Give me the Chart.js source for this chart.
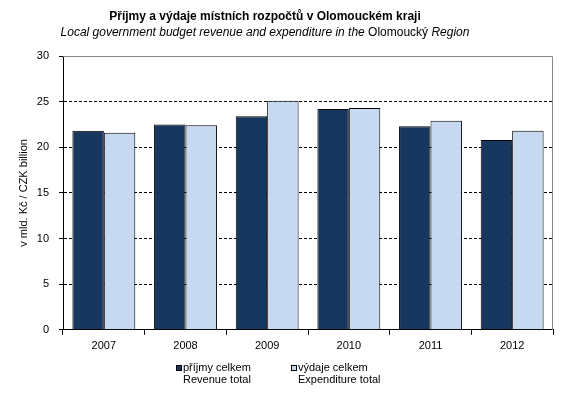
<!DOCTYPE html>
<html>
<head>
    <meta charset="utf-8">
    <title>Příjmy a výdaje místních rozpočtů v Olomouckém kraji</title>
    <script src="https://cdn.jsdelivr.net/npm/chart.js@4"></script>
    <style>
        html, body {
            margin: 0;
            padding: 0;
            background: #fff;
        }
        #wrap {
            width: 581px;
            height: 395px;
        }
    </style>
</head>
<body>
    <div id="wrap"><canvas id="plot"></canvas></div>

    <script>
        // data (bn CZK)
        const years = ['2007', '2008', '2009', '2010', '2011', '2012'];
        const revenue = [21.8, 22.5, 23.4, 24.2, 22.3, 20.8];
        const expenditure = [21.6, 22.4, 25.1, 24.3, 22.9, 21.8];

        const yTicks = [0, 5, 10, 15, 20, 25, 30];

        // legend labels: czech line + english line
        const revenueLabel = ['příjmy celkem', 'Revenue total'];
        const expenditureLabel = ['výdaje celkem', 'Expenditure total'];

        const titleText = 'Příjmy a výdaje místních rozpočtů v Olomouckém kraji';
        // subtitle has mixed styles: [text, font style]
        const subtitleParts = [
            ['Local government budget revenue and expenditure in the ', 'italic'],
            ['Olomoucký', 'normal'],
            [' Region', 'italic']
        ];
        const yTitle = 'v mld. Kč / CZK billion';

        const FONT = '"Liberation Sans", Arial, sans-serif';
        const DARK = '#17375E';
        const LIGHT = '#C6D9F1';

        // headings, two-line legend and the grey frame on top/right of the plot
        const headingPlugin = {
            id: 'heading',
            afterDraw(chart) {
                const ctx = chart.ctx;
                const cx = 265;
                ctx.save();
                ctx.fillStyle = '#000';
                ctx.textBaseline = 'middle';

                ctx.textAlign = 'center';
                ctx.font = 'bold 12px ' + FONT;
                ctx.fillText(titleText, cx, 17);

                ctx.textAlign = 'left';
                const widths = subtitleParts.map(p => {
                    ctx.font = p[1] + ' 12px ' + FONT;
                    return ctx.measureText(p[0]).width;
                });
                let x = cx - widths.reduce((a, b) => a + b, 0) / 2;
                subtitleParts.forEach((p, i) => {
                    ctx.font = p[1] + ' 12px ' + FONT;
                    ctx.fillText(p[0], x, 33);
                    x += widths[i];
                });

                // legend
                ctx.font = '11px ' + FONT;
                const items = chart.data.datasets.map(ds => {
                    const lines = ds.label.split('\n');
                    const w = Math.max(...lines.map(l => ctx.measureText(l).width));
                    return { lines, w: 7 + w, fill: ds.backgroundColor };
                });
                const gap = 40;
                const total = items.reduce((a, it) => a + it.w, 0) + gap * (items.length - 1);
                let lx = Math.round(278.5 - total / 2);
                items.forEach(it => {
                    ctx.fillStyle = it.fill;
                    ctx.fillRect(lx, 365, 5, 5);
                    ctx.strokeStyle = '#000';
                    ctx.lineWidth = 1;
                    ctx.strokeRect(lx + 0.5, 365.5, 5, 5);
                    ctx.fillStyle = '#000';
                    it.lines.forEach((l, j) => ctx.fillText(l, lx + 7, 367.5 + j * 12.5));
                    lx += Math.round(it.w + gap);
                });

                const a = chart.chartArea;
                ctx.strokeStyle = '#868686';
                ctx.lineWidth = 1;
                ctx.beginPath();
                ctx.moveTo(a.left, a.top + 0.5);
                ctx.lineTo(a.right - 0.5, a.top + 0.5);
                ctx.lineTo(a.right - 0.5, a.bottom);
                ctx.stroke();
                ctx.restore();
            }
        };

        const ctx = document.getElementById('plot').getContext('2d');
        const chart = new Chart(ctx, {
            type: 'bar',
            data: {
                labels: years,
                datasets: [{
                    label: revenueLabel.join('\n'),
                    data: revenue,
                    backgroundColor: DARK,
                    borderColor: '#000',
                    borderWidth: 1
                }, {
                    label: expenditureLabel.join('\n'),
                    data: expenditure,
                    backgroundColor: LIGHT,
                    borderColor: '#000',
                    borderWidth: 1
                }]
            },
            options: {
                responsive: true,
                maintainAspectRatio: false,
                animation: false,
                datasets: {
                    bar: {
                        categoryPercentage: 0.77,
                        barPercentage: 1.0
                    }
                },
                layout: {
                    padding: { left: 0, right: 28, top: 56, bottom: 37 }
                },
                scales: {
                    x: {
                        offset: true,
                        grid: {
                            offset: true,
                            drawOnChartArea: false,
                            color: '#000',
                            tickLength: 5
                        },
                        border: { color: '#000', width: 1 },
                        ticks: {
                            color: '#000',
                            padding: 5,
                            font: { family: FONT, size: 11 }
                        }
                    },
                    y: {
                        min: 0,
                        max: 30,
                        afterFit(scale) { scale.width = 63; },
                        afterBuildTicks(scale) {
                            scale.ticks = yTicks.map(v => ({ value: v }));
                        },
                        grid: {
                            color: c => (c.tick.value === 0 || c.tick.value === 30) ? 'rgba(0,0,0,0)' : '#000',
                            tickColor: '#000',
                            tickLength: 4
                        },
                        border: { color: '#000', width: 1, dash: [3, 2] },
                        ticks: {
                            color: '#000',
                            padding: 10,
                            font: { family: FONT, size: 11 }
                        },
                        title: {
                            display: true,
                            text: yTitle,
                            color: '#000',
                            padding: { top: 17, bottom: 0 },
                            font: { family: FONT, size: 11 }
                        }
                    }
                },
                plugins: {
                    title: { display: false },
                    tooltip: { enabled: false },
                    legend: { display: false }
                }
            },
            plugins: [headingPlugin]
        });
    </script>
</body>
</html>
